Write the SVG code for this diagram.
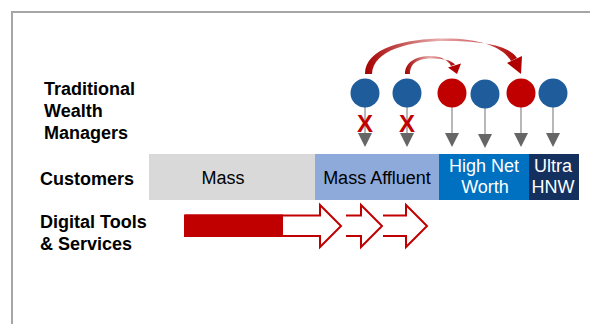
<svg xmlns="http://www.w3.org/2000/svg" width="590" height="324" viewBox="0 0 590 324">
<defs>
<style>
.lbl{font-family:"Liberation Sans",Arial,sans-serif;font-weight:bold;font-size:18px;fill:#000}
.seg{font-family:"Liberation Sans",Arial,sans-serif;font-size:18px;text-anchor:middle}
.stem{stroke:#a0a0a0;stroke-width:1.5}
.tri{fill:#666666}
.blue{fill:#1f5c9c}
.red{fill:#c00000}
.x{font-family:"Liberation Sans",Arial,sans-serif;font-weight:bold;font-size:24px;fill:#c00000;text-anchor:middle}
.outline{fill:#fff;stroke:#c00000;stroke-width:2;stroke-linejoin:miter}
</style>
<linearGradient id="arcg" x1="0" y1="0" x2="1" y2="0">
<stop offset="0" stop-color="#a50000"/>
<stop offset="0.5" stop-color="#e8b0b0"/>
<stop offset="1" stop-color="#b00000"/>
</linearGradient>
</defs>
<rect width="590" height="324" fill="#fff"/>
<path d="M12,324 L12,12 L590,12" fill="none" stroke="#a6a6a6" stroke-width="2"/>

<g id="label-traditional">
<text class="lbl" x="44" y="95">Traditional</text>
<text class="lbl" x="44" y="117">Wealth</text>
<text class="lbl" x="44" y="139">Managers</text>
</g>
<g id="label-customers"><text class="lbl" x="40" y="185">Customers</text></g>
<g id="label-digital">
<text class="lbl" x="40" y="228">Digital Tools</text>
<text class="lbl" x="40" y="250">&amp; Services</text>
</g>

<g id="seg-mass"><rect x="149" y="154" width="166" height="46" fill="#d9d9d9"/><text class="seg" x="223" y="184" fill="#000">Mass</text></g>
<g id="seg-affluent"><rect x="315" y="154" width="124" height="46" fill="#8eaadb"/><text class="seg" x="377" y="184" fill="#000">Mass Affluent</text></g>
<g id="seg-hnw"><rect x="439" y="154" width="90" height="46" fill="#0070c0"/><text class="seg" x="484" y="172" fill="#fff">High Net</text><text class="seg" x="485" y="193" fill="#fff">Worth</text></g>
<g id="seg-uhnw"><rect x="529" y="154" width="50" height="46" fill="#14305e"/><text class="seg" x="553" y="172" fill="#fff">Ultra</text><text class="seg" x="553" y="193" fill="#fff">HNW</text></g>

<g id="connectors">
<line class="stem" x1="365" y1="93" x2="365" y2="134"/>
<line class="stem" x1="407" y1="93" x2="407" y2="134"/>
<line class="stem" x1="452" y1="93" x2="452" y2="134"/>
<line class="stem" x1="485" y1="94" x2="485" y2="134"/>
<line class="stem" x1="521" y1="93" x2="521" y2="134"/>
<line class="stem" x1="553" y1="93" x2="553" y2="134"/>
<polygon class="tri" points="358,133 372,133 365,147"/>
<polygon class="tri" points="400,133 414,133 407,147"/>
<polygon class="tri" points="445,133 459,133 452,147"/>
<polygon class="tri" points="478,134 492,134 485,148"/>
<polygon class="tri" points="514,133 528,133 521,147"/>
<polygon class="tri" points="546,133 560,133 553,147"/>
<path fill="url(#arcg)" d="M365,74 C365,48 405,38.5 445,38.5 C480,38.5 503,47 511,61 L517,58 C508,45 482,41 445,41 C410,41 373,50 372,74 Z"/>
<polygon fill="#b00000" points="507,63 522,56 521,74"/>
<path fill="url(#arcg)" d="M405,74 C405,61 418,56 430,56 C441,56 448,60 451,66 L455,64.5 C451,60 443,58.5 430,58.5 C420,58.5 410,62 410,74 Z"/>
<polygon fill="#b00000" points="448,67.5 461,63.5 457,74"/>
</g>

<g id="tm1"><circle class="blue" cx="365" cy="93" r="14.5"/><text class="x" x="365" y="132">X</text></g>
<g id="tm2"><circle class="blue" cx="407" cy="93" r="14.5"/><text class="x" x="407" y="132">X</text></g>
<g id="tm3"><circle class="red" cx="452" cy="93" r="14.5"/></g>
<g id="tm4"><circle class="blue" cx="485" cy="94" r="14.5"/></g>
<g id="tm5"><circle class="red" cx="521" cy="93" r="14.5"/></g>
<g id="tm6"><circle class="blue" cx="553" cy="93" r="14.5"/></g>

<g id="digital-arrows">
<path class="outline" d="M185,215.5 L320,215.5 L320,205 L341,226 L320,247 L320,236 L185,236 Z"/>
<rect x="185" y="214.5" width="98" height="22.5" fill="#c00000"/>
<path class="outline" d="M346,215.5 L361,215.5 L361,205 L382,226 L361,247 L361,236 L346,236"/>
<path class="outline" d="M383,215.5 L406,215.5 L406,205 L427,226 L406,247 L406,236 L383,236"/>
</g>
</svg>
